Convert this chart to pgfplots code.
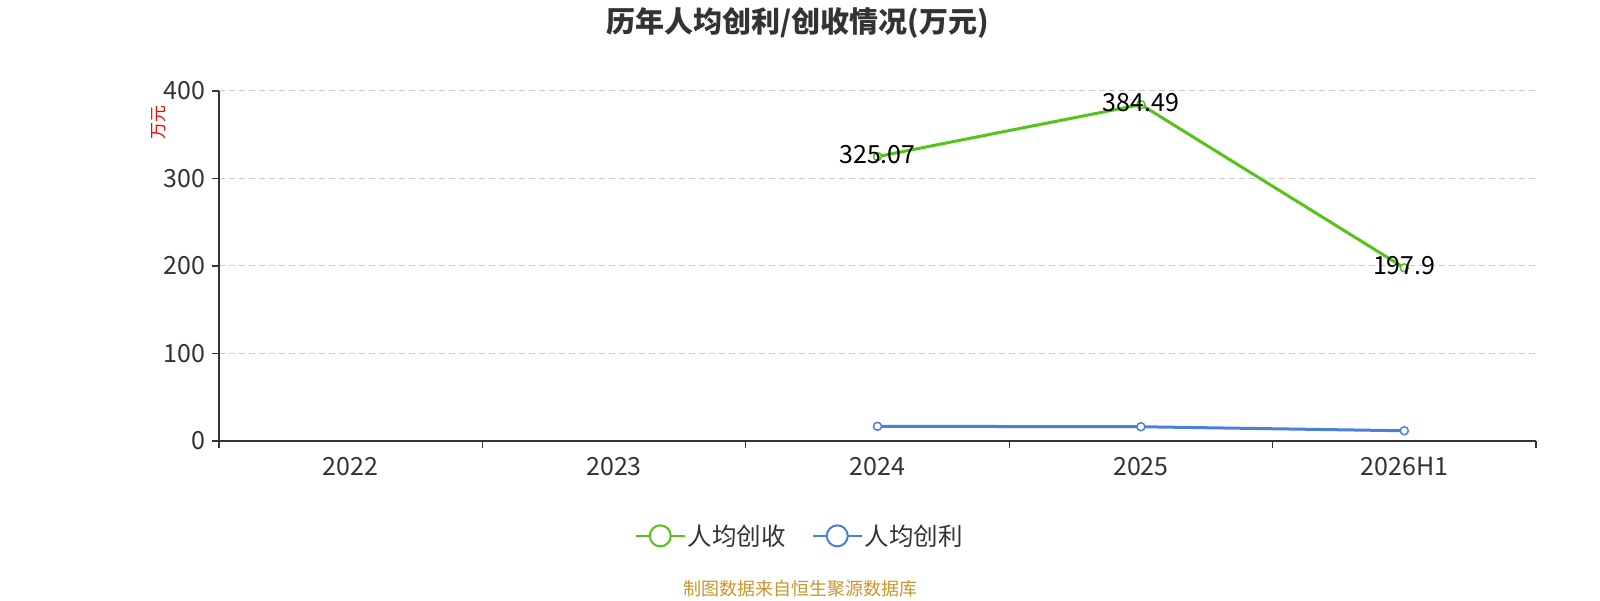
\documentclass[border=0pt]{standalone}
\usepackage{fontspec}
\setmainfont{Noto Sans CJK SC}
\usepackage{pgfplots}
\pgfplotsset{compat=1.18}
\definecolor{cgreen}{HTML}{52C41A}
\definecolor{cblue}{HTML}{4A7FDE}
\definecolor{ctext}{HTML}{333333}
\definecolor{cgrid}{HTML}{CCCCCC}
\definecolor{cfoot}{HTML}{C8962A}
\begin{document}
\begin{tikzpicture}[x=1pt,y=1pt]
\path (0,0) rectangle (1600,600);
\node[font=\fontsize{29}{33}\selectfont\bfseries, text=ctext] at (798,577) {历年人均创利/创收情况(万元)};
\node[font=\fontsize{18}{20}\selectfont, text=cfoot] at (800,11) {制图数据来自恒生聚源数据库};
\begin{axis}[at={(219pt,159pt)}, anchor=south west, scale only axis,
  width=1317pt, height=350pt,
  xmin=-0.5, xmax=4.5, ymin=0, ymax=400,
  axis x line*=bottom, axis y line*=left,
  axis line style={ctext, line width=1.3pt},
  xtick={-0.5,0.5,1.5,2.5,3.5,4.5}, xticklabels={},
  extra x ticks={0,1,2,3,4},
  extra x tick labels={2022,2023,2024,2025,2026H1},
  extra x tick style={major tick length=0pt, grid=none},
  ytick={0,100,200,300,400},
  xtick align=outside, ytick align=outside,
  major tick length=7pt,
  tick style={ctext, line width=1.3pt},
  ymajorgrids, grid style={cgrid, dashed, line width=1pt, dash pattern=on 6pt off 4pt},
  tick label style={font=\fontsize{25}{28}\selectfont, text=ctext},
  /pgf/number format/assume math mode=true,
  xticklabel style={yshift=-13pt},
  yticklabel style={xshift=-3pt},
  legend style={at={(rel axis cs:0.441,-0.271)}, anchor=center, draw=none,
    font=\fontsize{24.5}{28}\selectfont, text=ctext,
    /tikz/every even column/.append style={column sep=24pt}},
  legend columns=2,
  legend image code/.code={
    \draw[#1, line width=2pt] (0pt,0pt) -- (49pt,0pt);
    \draw[#1, fill=white, line width=2pt] (24.5pt,0pt) circle (10.5pt);
  },
  clip=false,
]
\addplot[cgreen, line width=3pt, mark=*, mark size=4pt, mark options={fill=white, line width=1.5pt},
  nodes near coords, point meta=explicit symbolic,
  every node near coord/.append style={anchor=center, yshift=2pt, font=\fontsize{25}{28}\selectfont, text=black}]
  coordinates {(2,325.07)[325.07] (3,384.49)[384.49] (4,197.9)[197.9]};
\addlegendentry{人均创收}
\addplot[cblue, line width=3pt, mark=*, mark size=4pt, mark options={fill=white, line width=1.5pt}]
  coordinates {(2,16.8) (3,16.3) (4,11.7)};
\addlegendentry{人均创利}
\node[rotate=90, text=red, font=\fontsize{17}{19}\selectfont] at (rel axis cs:-0.046,0.91) {万元};
\end{axis}
\end{tikzpicture}
\end{document}
